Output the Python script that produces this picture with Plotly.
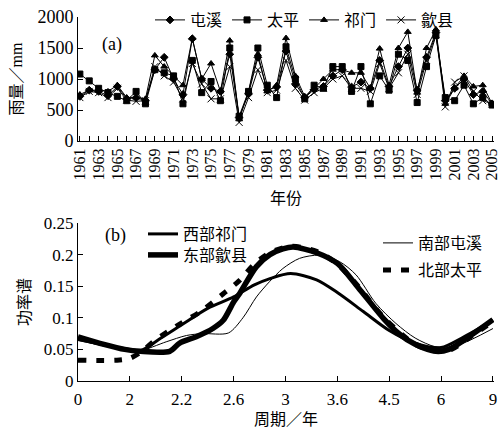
import plotly.graph_objects as go

# ---------- (a) annual rainfall ----------
years = list(range(1961, 2006))
tunxi = [720, 820, 800, 730, 880, 680, 700, 650, 1150, 1350, 1000, 750, 1650, 1000, 850, 800,
         1400, 380, 760, 1350, 820, 870, 1450, 920, 700, 830, 880, 1050, 1150, 870, 950, 850,
         1300, 880, 1200, 1500, 820, 1350, 1750, 650, 850, 1000, 750, 800, 600]
taiping = [1080, 970, 850, 780, 720, 650, 800, 600, 1150, 1100, 1050, 600, 1300, 780, 960, 650,
           1500, 400, 800, 1500, 900, 700, 1520, 1000, 680, 900, 850, 1200, 1200, 800, 1200, 600,
           1050, 820, 1400, 1300, 620, 1200, 1700, 700, 650, 900, 600, 700, 580]
qimen = [750, 820, 820, 800, 900, 700, 700, 680, 1380, 1200, 1050, 900, 1660, 1000, 1250, 800,
         1620, 350, 800, 1400, 800, 900, 1660, 1050, 720, 850, 1000, 1150, 1150, 1100, 1100, 850,
         1490, 900, 1500, 1760, 780, 1500, 1800, 600, 850, 1050, 880, 900, 600]
shexian = [700, 800, 780, 700, 850, 660, 640, 650, 1200, 1050, 950, 680, 1250, 920, 680, 680,
           1200, 300, 700, 1150, 780, 820, 1300, 850, 660, 780, 850, 1000, 1050, 850, 850, 800,
           1250, 850, 1100, 1400, 750, 1300, 1720, 550, 950, 1050, 800, 650, 600]
year_labels = [str(y) for y in range(1961, 2006, 2)]
rain_ticks = [0, 500, 1000, 1500, 2000]

# ---------- (b) power spectrum ----------
period_tick_labels = ["0", "2", "2.2", "2.6", "3", "3.6", "4.5", "6", "9"]
w_pos = [0, 0.5, 1.0, 1.2, 1.6, 2.0, 2.5, 3.0, 3.4, 3.7, 4.1, 4.6, 5.0, 5.5, 6.0, 6.5, 7.0, 7.4, 8.0]
w_val = [0.066, 0.057, 0.050, 0.048, 0.068, 0.089, 0.115, 0.133, 0.152, 0.162, 0.170, 0.160,
         0.140, 0.110, 0.080, 0.060, 0.053, 0.068, 0.096]
e_pos = [0, 0.5, 0.9, 1.2, 1.77, 1.96, 2.28, 2.6, 2.8, 3.0, 3.12, 3.44, 3.7, 3.95, 4.15, 4.6,
         5.0, 5.4, 5.9, 6.2, 6.5, 6.9, 7.15, 7.5, 8.0]
e_val = [0.070, 0.058, 0.050, 0.047, 0.047, 0.060, 0.070, 0.083, 0.096, 0.125, 0.139, 0.181,
         0.200, 0.209, 0.212, 0.203, 0.186, 0.148, 0.098, 0.074, 0.058, 0.047, 0.050, 0.068, 0.097]
s_pos = [0, 0.5, 1.0, 1.2, 1.7, 2.09, 2.4, 2.9, 3.18, 3.44, 3.69, 3.95, 4.27, 4.65, 5.04, 5.36,
         5.74, 6.13, 6.5, 6.9, 7.3, 8.0]
s_val = [0.064, 0.056, 0.050, 0.048, 0.062, 0.072, 0.075, 0.076, 0.100, 0.133, 0.157, 0.178,
         0.194, 0.199, 0.189, 0.168, 0.123, 0.091, 0.068, 0.054, 0.056, 0.083]
n_pos = [0, 0.75, 1.0, 1.2, 1.5, 1.9, 2.4, 2.8, 3.1, 3.4, 3.7, 4.1, 4.6, 5.0, 5.4, 5.9, 6.5,
         6.9, 7.2, 7.6, 8.0]
n_val = [0.033, 0.033, 0.036, 0.045, 0.065, 0.087, 0.112, 0.138, 0.158, 0.185, 0.203, 0.213,
         0.205, 0.185, 0.150, 0.100, 0.058, 0.047, 0.050, 0.072, 0.094]
power_tick_vals = [0, 0.05, 0.1, 0.15, 0.2, 0.25]
power_tick_text = ["0", "0.05", "0.1", "0.15", "0.2", "0.25"]

W, H = 504, 428
FONT = "'Liberation Serif', 'Noto Sans CJK SC', serif"

def px(x):
    return x / W

def py(y):
    return 1 - y / H

fig = go.Figure()

series = [("屯溪", tunxi, "diamond"), ("太平", taiping, "square"),
          ("祁门", qimen, "triangle-up"), ("歙县", shexian, "x-thin")]
for name, vals, sym in series:
    fig.add_trace(go.Scatter(
        x=years, y=vals, name=name, mode="lines+markers",
        line=dict(color="black", width=1),
        marker=dict(symbol=sym, size=6 if sym != "x-thin" else 7, color="black",
                    line=dict(color="black", width=1)),
        xaxis="x", yaxis="y", legend="legend"))

spec = [("西部祁门", w_pos, w_val, 3, "solid", "legend2"),
        ("东部歙县", e_pos, e_val, 5.5, "solid", "legend3"),
        ("南部屯溪", s_pos, s_val, 1, "solid", "legend4"),
        ("北部太平", n_pos, n_val, 5, "8px,10px", "legend5")]
for name, xs, ys, lw, dash, lg in spec:
    fig.add_trace(go.Scatter(
        x=xs, y=ys, name=name, mode="lines",
        line=dict(color="black", width=lw, dash=dash, shape="spline", smoothing=0.8),
        xaxis="x2", yaxis="y2", legend=lg))

def axis_common(size):
    return dict(showline=True, linecolor="black", linewidth=1, showgrid=False,
                zeroline=False, ticks="inside", tickcolor="black", ticklen=5,
                automargin=False,
                tickfont=dict(family=FONT, size=size, color="black"))

fig.update_layout(
    width=W, height=H, margin=dict(l=0, r=0, t=0, b=0),
    paper_bgcolor="white", plot_bgcolor="white",
    font=dict(family=FONT, size=16, color="black"),
    xaxis=dict(domain=[px(78), px(494)], range=[1960.8, 2005.2],
               tickvals=list(range(1961, 2006, 2)), ticktext=year_labels, tickangle=-90,
               minor=dict(dtick=1, tick0=1961, ticks="inside", ticklen=5, tickcolor="black"),
               title=dict(text="年份", standoff=13, font=dict(family=FONT, size=16)),
               anchor="y", **axis_common(16)),
    yaxis=dict(domain=[py(141), py(17)], range=[0, 2000], tickvals=rain_ticks,
               title=dict(text="雨量／mm", standoff=10, font=dict(family=FONT, size=16)),
               anchor="x", **axis_common(18)),
    xaxis2=dict(domain=[px(78), px(494)], range=[0, 8.02], tickvals=list(range(9)),
                ticktext=period_tick_labels, ticklabelstandoff=3,
                title=dict(text="周期／年", standoff=5, font=dict(family=FONT, size=16)),
                anchor="y2", **axis_common(17)),
    yaxis2=dict(domain=[py(381), py(223)], range=[0, 0.25], tickvals=power_tick_vals,
                ticktext=power_tick_text,
                title=dict(text="功率谱", standoff=9, font=dict(family=FONT, size=16)),
                anchor="x2", **axis_common(17)),
    legend=dict(orientation="h", x=px(150), y=py(3), xanchor="left", yanchor="top",
                bgcolor="rgba(0,0,0,0)", font=dict(family=FONT, size=16),
                itemwidth=30, tracegroupgap=0),
    legend2=dict(x=px(143), y=py(234), xanchor="left", yanchor="middle",
                 bgcolor="rgba(0,0,0,0)", font=dict(family=FONT, size=16)),
    legend3=dict(x=px(143), y=py(255), xanchor="left", yanchor="middle",
                 bgcolor="rgba(0,0,0,0)", font=dict(family=FONT, size=16)),
    legend4=dict(x=px(378), y=py(243), xanchor="left", yanchor="middle",
                 bgcolor="rgba(0,0,0,0)", font=dict(family=FONT, size=16)),
    legend5=dict(x=px(378), y=py(270), xanchor="left", yanchor="middle",
                 bgcolor="rgba(0,0,0,0)", font=dict(family=FONT, size=16)),
    annotations=[
        dict(text="(a)", x=px(100), y=py(32), xref="paper", yref="paper",
             showarrow=False, font=dict(family=FONT, size=18)),
        dict(text="(b)", x=px(103), y=py(236), xref="paper", yref="paper",
             showarrow=False, font=dict(family=FONT, size=18)),
    ],
)

fig.write_html("out.html", config={"displayModeBar": False},
               post_script="document.body.style.margin='0';document.body.style.padding='0';")
